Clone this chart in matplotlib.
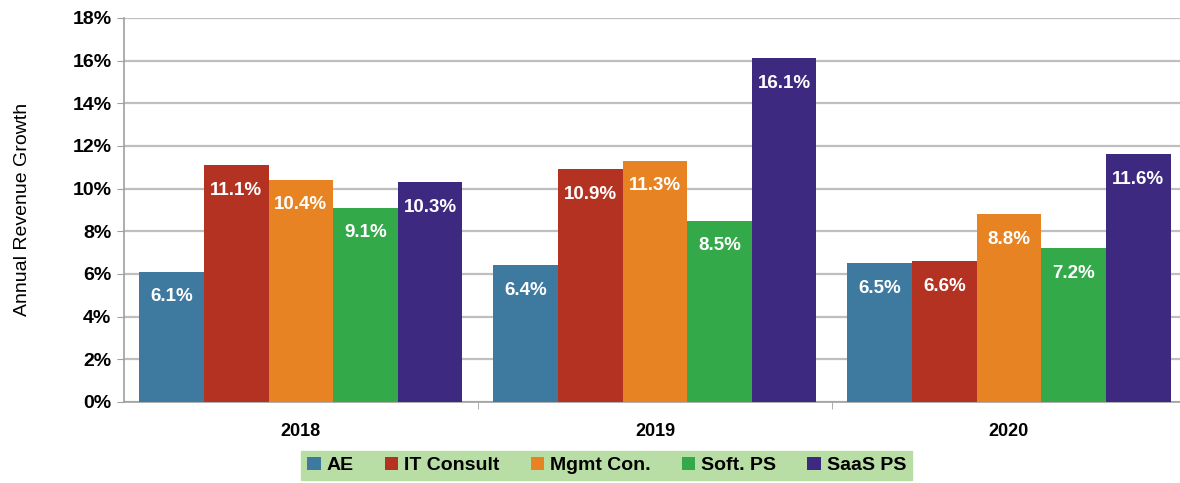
import numpy as np
import matplotlib.pyplot as plt
from matplotlib.ticker import FixedLocator

years = ["2018", "2019", "2020"]
series = ["AE", "IT Consult", "Mgmt Con.", "Soft. PS", "SaaS PS"]
ae = [6.1, 6.4, 6.5]
it_consult = [11.1, 10.9, 6.6]
mgmt_con = [10.4, 11.3, 8.8]
soft_ps = [9.1, 8.5, 7.2]
saas_ps = [10.3, 16.1, 11.6]
colors = ["#3E79A0", "#B33222", "#E78323", "#34A94A", "#3D2A80"]

plt.rcParams["font.family"] = ["Liberation Sans", "DejaVu Sans"]

fig = plt.figure(figsize=(11.8, 4.83), dpi=100)
ax = fig.add_axes([0.105, 0.168, 0.895, 0.795])

x = np.arange(len(years))
w = 0.1825
values = [ae, it_consult, mgmt_con, soft_ps, saas_ps]
for i, (name, vals) in enumerate(zip(series, values)):
    pos = x + (i - 2) * w
    bars = ax.bar(pos, vals, w, color=colors[i], label=name, zorder=3)
    for b, v in zip(bars, vals):
        ax.annotate(f"{v:.1f}%", (b.get_x() + b.get_width() / 2, v),
                    xytext=(0, -18), textcoords="offset points",
                    ha="center", va="center", color="white",
                    fontsize=13.5, fontweight="bold", zorder=4)

ax.set_xlim(-0.5, 2.483)
ax.set_ylim(0, 18)
ax.set_yticks(range(0, 19, 2))
ax.set_yticklabels([f"{t}%" for t in range(0, 19, 2)], fontsize=14, fontweight="bold")
ax.set_xticks(x)
ax.set_xticklabels(years, fontsize=13, fontweight="bold")
ax.tick_params(axis="x", which="major", length=0, pad=15)
ax.xaxis.set_minor_locator(FixedLocator([0.5, 1.5]))
ax.tick_params(axis="x", which="minor", length=5, color="#A0A0A0")
ax.tick_params(axis="y", length=5, color="#A0A0A0", pad=4)
ax.grid(axis="y", color="#BFBFBF", linewidth=1.6, zorder=0)
for s in ["top", "right"]:
    ax.spines[s].set_visible(False)
for s in ["left", "bottom"]:
    ax.spines[s].set_color("#A0A0A0")
    ax.spines[s].set_linewidth(1.2)
ax.set_ylabel("Annual Revenue Growth", fontsize=14, labelpad=30)

fig.legend(loc="center", bbox_to_anchor=(0.514, 0.036), ncol=5,
           frameon=True, fancybox=False, facecolor="#B8DDA5",
           edgecolor="#B8DDA5", framealpha=1,
           prop={"size": 14, "weight": "bold"},
           handlelength=0.7, handleheight=0.7, handletextpad=0.3,
           columnspacing=1.6, borderpad=0.3, borderaxespad=0)

fig.savefig("out.png", dpi=100)
